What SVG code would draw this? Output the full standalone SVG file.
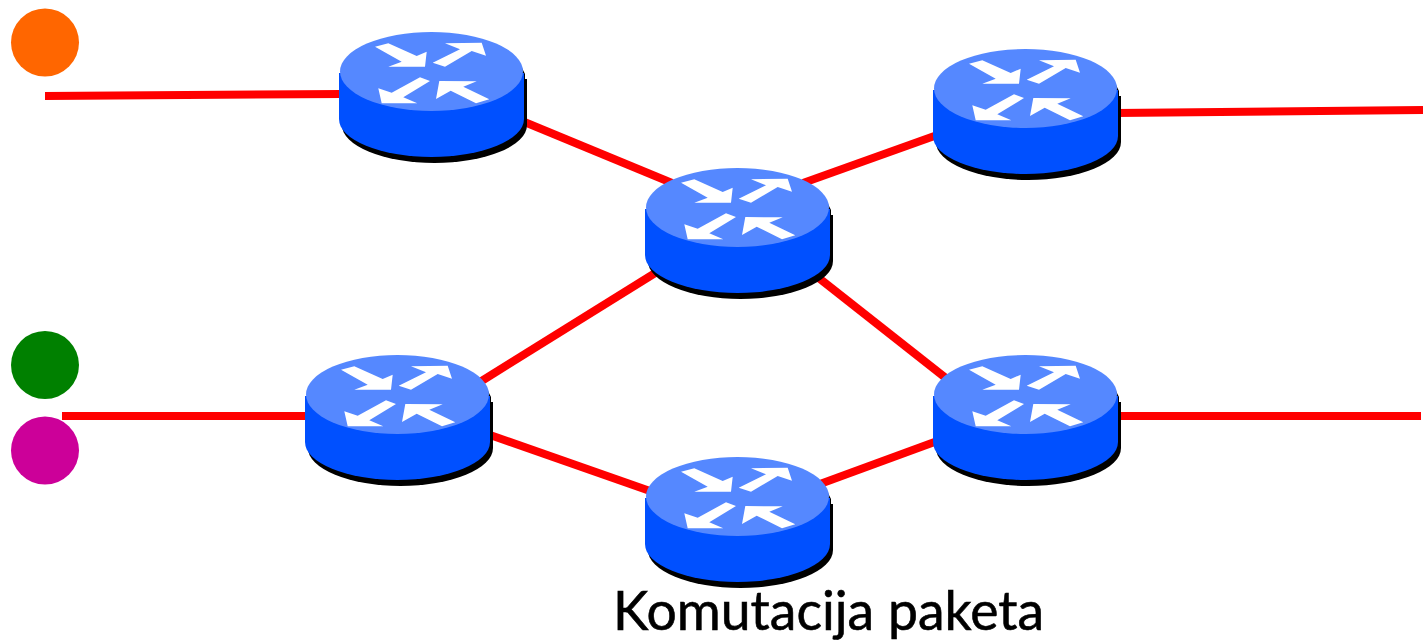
<svg xmlns="http://www.w3.org/2000/svg" width="1423" height="644" viewBox="0 0 1423 644">
<style>
.link{stroke:#ff0000;stroke-width:8;fill:none}
.shadow{fill:#000}
.body{fill:#0050ff}
.top{fill:#5588ff}
.arrow{fill:#fff}
.label{font-family:"Lato","Open Sans",sans-serif;font-size:55px;fill:#000;stroke:#000;stroke-width:.6px}
</style>
<defs>
<g id="router">
<path class="shadow" d="M2 47H187V93A92.500 38 0 0 1 2 93Z"/>
<path class="shadow" d="M181 34L185 42V50H175Z"/>
<path class="body" d="M-1 41H184V87A92.500 38 0 0 1 -1 87Z"/>
<ellipse class="top" cx="91.500" cy="39.500" rx="91.500" ry="39.500"/>
<polygon class="arrow" points="35,14.700 48.300,11.300 76.700,24 86.700,19.700 85,34.700 48.300,34.700 61.700,29.700"/>
<polygon class="arrow" points="105,11.300 141.700,10.700 146,23.700 131.700,19 105,34.700 92.700,30.700 120,17.300"/>
<polygon class="arrow" points="80,45.300 90,49 63.300,65.300 77.300,71.300 41.700,71.300 38.300,56.300 51.700,60.700"/>
<polygon class="arrow" points="96,67 99.300,49 136.700,49.300 123.300,54.700 149.300,67.300 136,71.300 110.700,58.700"/>
</g>
</defs>
<g id="connectors">
<line class="link" x1="45" y1="96" x2="342" y2="94"/>
<line class="link" x1="522" y1="121" x2="672" y2="183"/>
<line class="link" x1="803" y1="183" x2="940" y2="134"/>
<line class="link" x1="1116" y1="113" x2="1423" y2="110"/>
<line class="link" x1="480" y1="382" x2="660" y2="270"/>
<line class="link" x1="815" y1="275" x2="947" y2="379"/>
<line class="link" x1="62" y1="416" x2="308" y2="416"/>
<line class="link" x1="490" y1="435" x2="650" y2="491"/>
<line class="link" x1="820" y1="484" x2="940" y2="440"/>
<line class="link" x1="1116" y1="416" x2="1421" y2="416"/>
</g>
<g id="host-orange"><circle cx="45" cy="42.500" r="34" fill="#ff6600"/></g>
<g id="host-green"><circle cx="45" cy="365" r="34" fill="#008000"/></g>
<g id="host-magenta"><circle cx="45" cy="450.500" r="34" fill="#cc0099"/></g>
<g id="router-1"><use href="#router" x="340" y="32"/></g>
<g id="router-2"><use href="#router" x="934" y="49"/></g>
<g id="router-3"><use href="#router" x="646" y="168"/></g>
<g id="router-4"><use href="#router" x="306" y="355"/></g>
<g id="router-5"><use href="#router" x="934" y="355"/></g>
<g id="router-6"><use href="#router" x="646" y="457"/></g>
<text class="label" x="613" y="630" textLength="431" lengthAdjust="spacingAndGlyphs">Komutacija paketa</text>
</svg>
